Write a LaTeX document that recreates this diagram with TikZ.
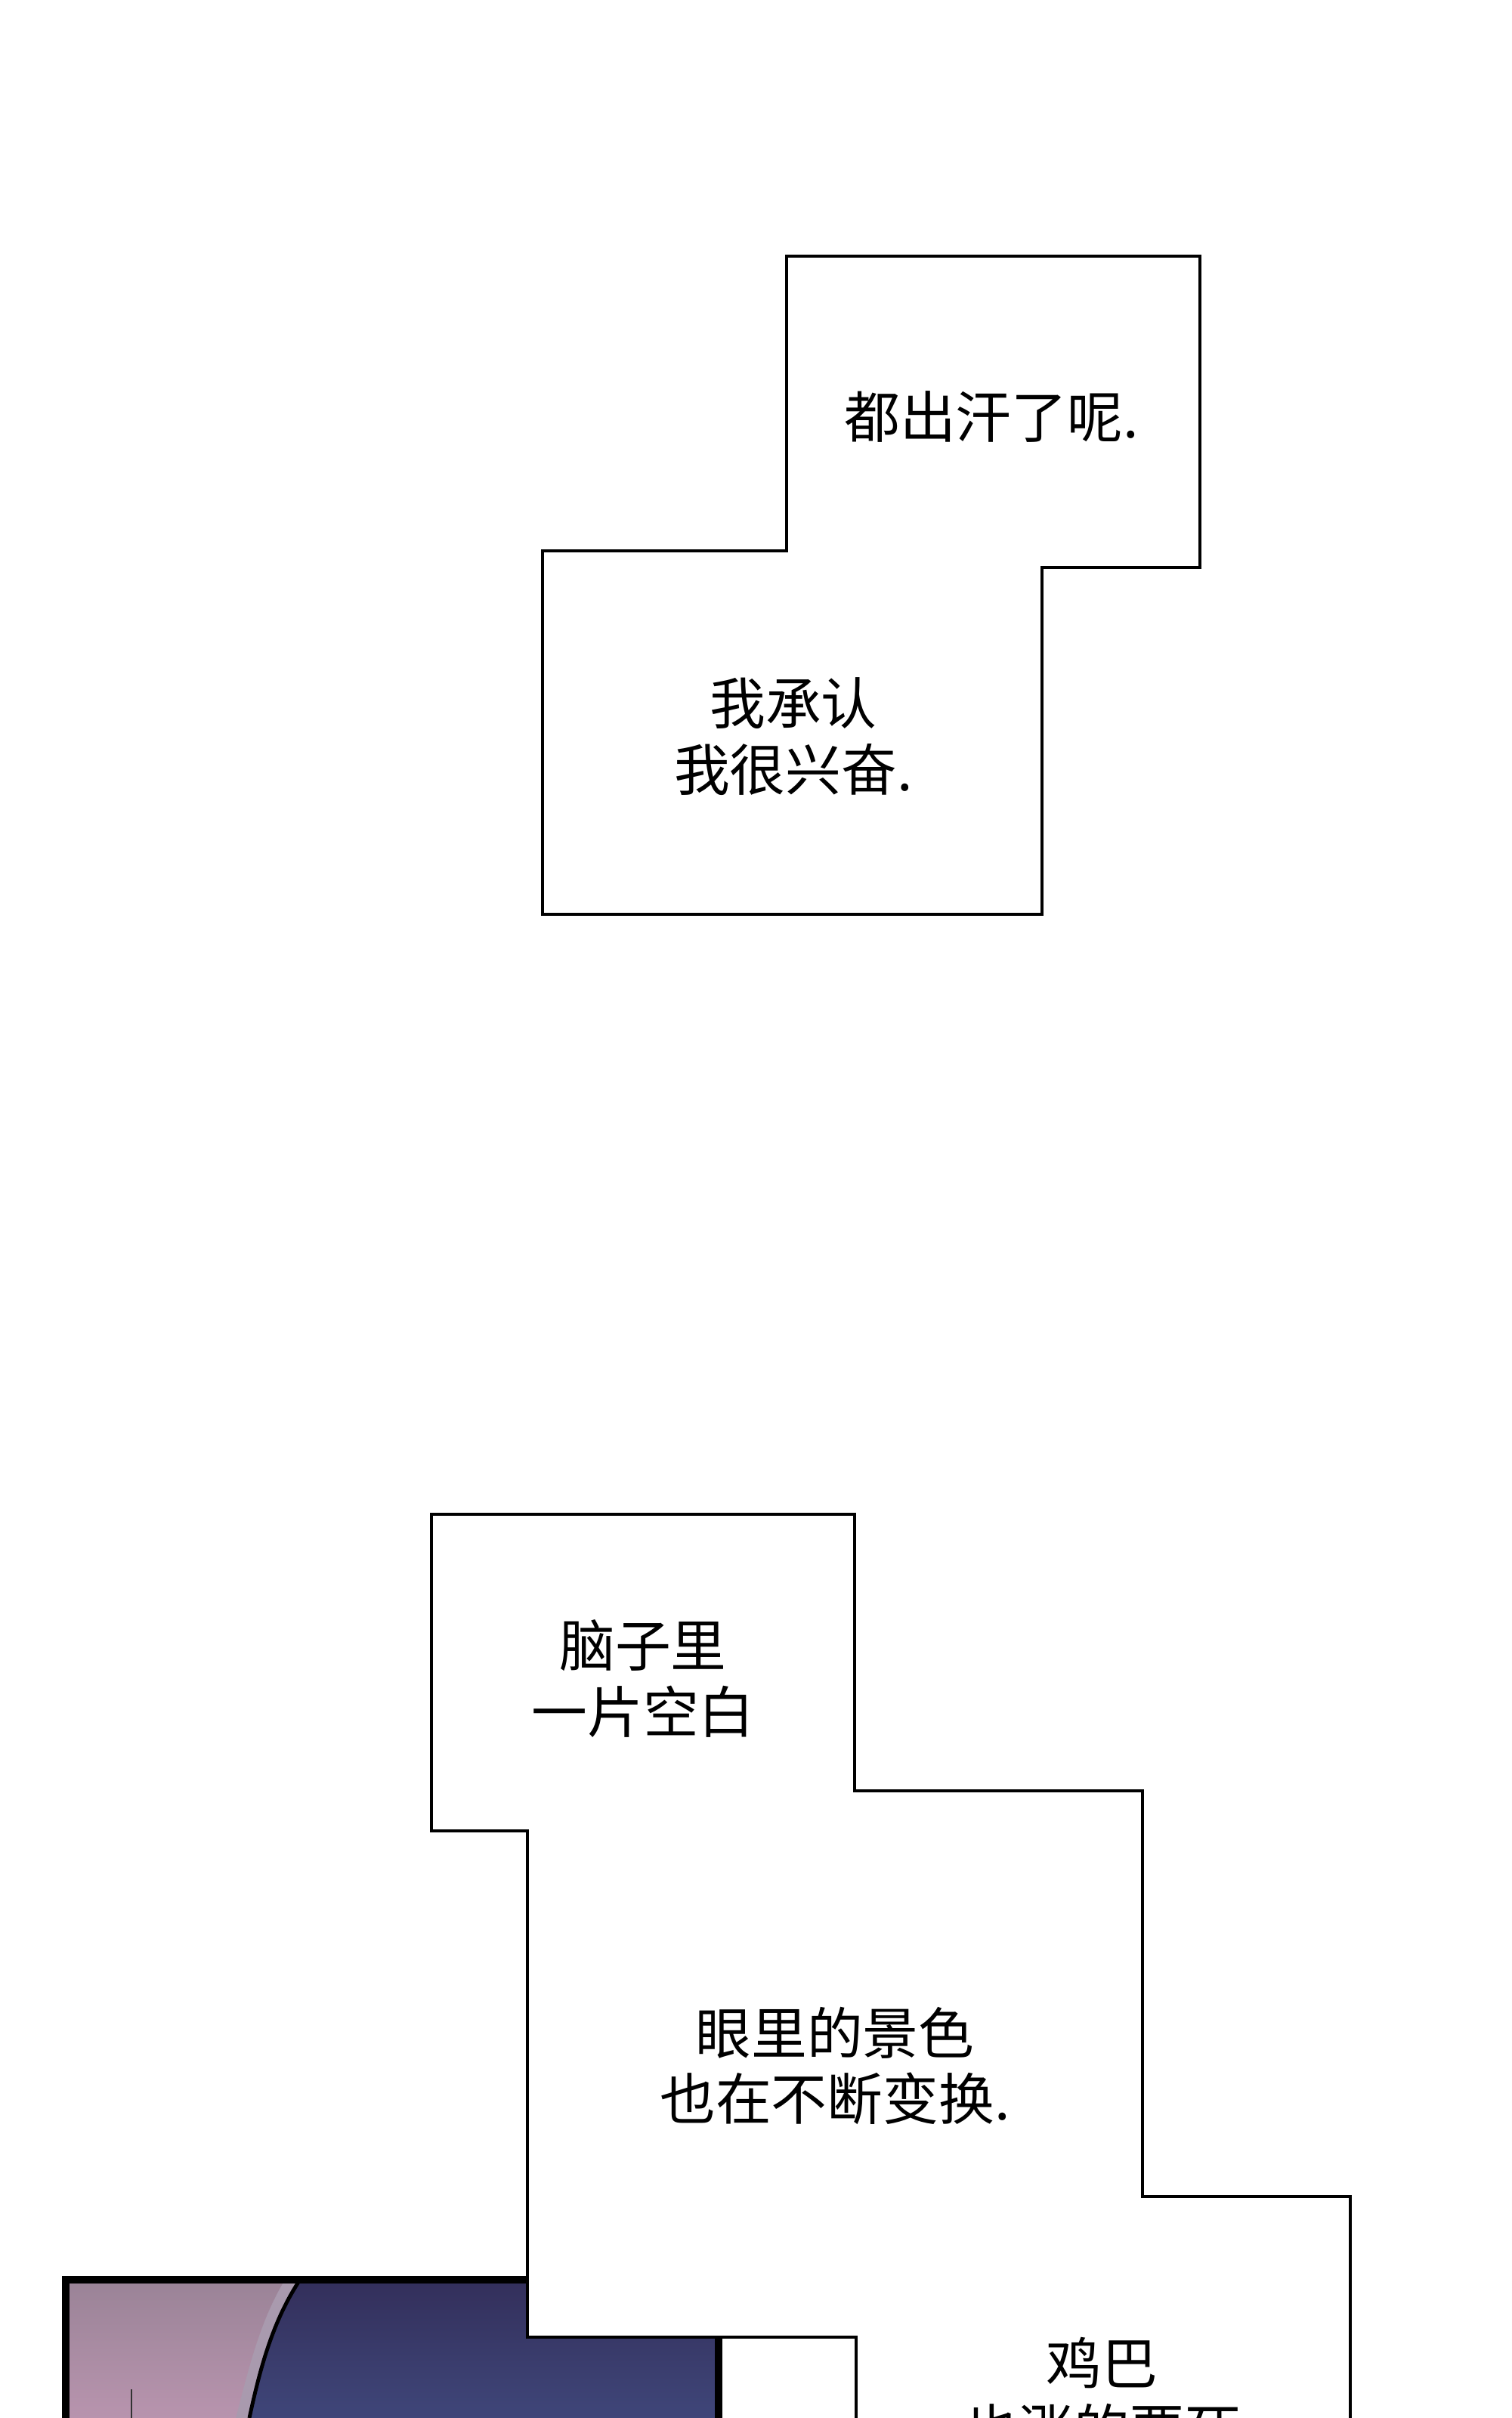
\documentclass[tikz,border=0pt]{standalone}
\usepackage{fontspec}
\newfontfamily\cjk{Noto Sans CJK SC}
\definecolor{skintop}{HTML}{9A8397}
\definecolor{skinbot}{HTML}{B894AE}
\definecolor{skinedge}{HTML}{A99AAE}
\definecolor{nighttop}{HTML}{332F5B}
\definecolor{nightbot}{HTML}{3F4679}
\begin{document}
\begin{tikzpicture}[
  caption/.style={draw=black, line width=1pt, fill=white, line join=miter},
  words/.style={font=\cjk\fontsize{21}{25}\selectfont, align=center, inner sep=0pt}
]
\useasboundingbox[fill=white] (0,0) rectangle (20.01,-32);

% upper caption
\draw[caption] (10.41,-3.39) -- (15.88,-3.39) -- (15.88,-7.51) -- (13.79,-7.51)
  -- (13.79,-12.10) -- (7.18,-12.10) -- (7.18,-7.29) -- (10.41,-7.29) -- cycle;
\node[words] (sweat) at (13.12,-5.51) {都出汗了呢.};
\node[words] (admit) at (10.50,-9.745) {我承认\\我很兴奋.};

% panel
\begin{scope}
  \clip (0.87,-30.17) rectangle (9.51,-32);
  \shade[top color=nighttop, bottom color=nightbot] (0.87,-30.17) rectangle (9.51,-32);
  \fill[skinedge] (0.87,-30.17) -- (3.97,-30.17) .. controls (3.62,-30.70) and (3.45,-31.30) .. (3.30,-32)
    -- (0.87,-32) -- cycle;
  \shade[top color=skintop, bottom color=skinbot] (0.87,-30.17) -- (3.77,-30.17)
    .. controls (3.45,-30.70) and (3.30,-31.30) .. (3.12,-32) -- (0.87,-32) -- cycle;
  \draw[line width=1.4pt] (3.97,-30.17) .. controls (3.62,-30.70) and (3.45,-31.30) .. (3.30,-32);
  \draw[line width=0.5pt, black!80] (1.74,-31.62) -- (1.74,-32);
\end{scope}
\draw[line width=2.8pt] (0.87,-32.3) -- (0.87,-30.17) -- (9.51,-30.17) -- (9.51,-32.3);

% lower caption
\draw[caption] (5.71,-20.04) -- (11.31,-20.04) -- (11.31,-23.70) -- (15.12,-23.70)
  -- (15.12,-29.07) -- (17.87,-29.07) -- (17.87,-32.3) -- (11.33,-32.3)
  -- (11.33,-30.93) -- (6.98,-30.93) -- (6.98,-24.23) -- (5.71,-24.23) -- cycle;
\node[words] (blank) at (8.51,-22.215) {脑子里\\一片空白};
\node[words] (scene) at (11.05,-27.34) {眼里的景色\\也在不断变换.};
\node[words] (swell) at (14.58,-31.71) {鸡巴\\也涨的要死};
\end{tikzpicture}
\end{document}
